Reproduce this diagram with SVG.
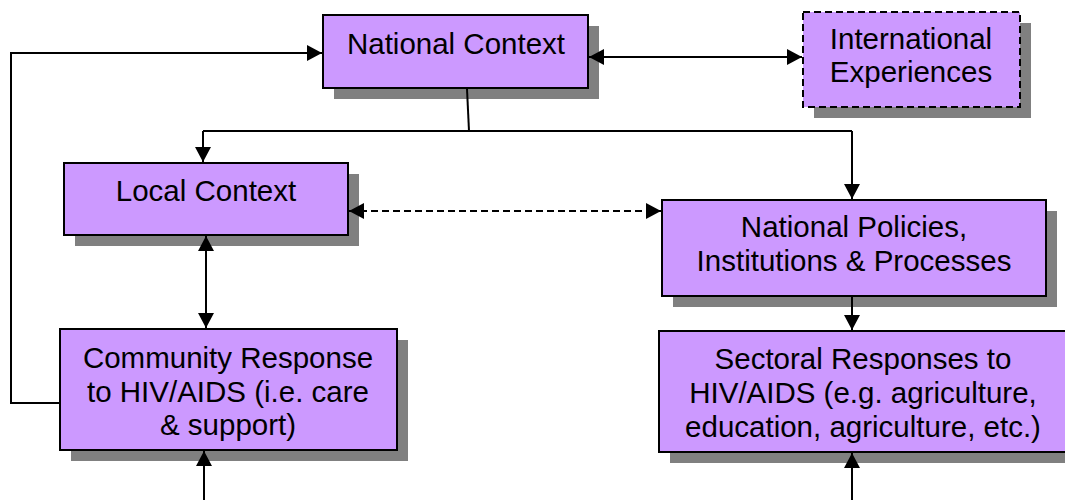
<svg xmlns="http://www.w3.org/2000/svg" width="1065" height="500" viewBox="0 0 1065 500">
<defs>
<marker id="ah" viewBox="0 0 15 16" refX="15" refY="8" markerWidth="15" markerHeight="16" markerUnits="userSpaceOnUse" orient="auto-start-reverse">
<path d="M0,0 L15,8 L0,16 Z" fill="#000"/>
</marker>
</defs>
<style>
.shadow{fill:#808080}
.box{fill:#cc99ff;stroke:#000;stroke-width:2}
.dash{stroke-dasharray:7,4}
.t{font-family:"Liberation Sans",Arial,sans-serif;font-size:29.5px;fill:#000;text-anchor:middle}
.c{fill:none;stroke:#000;stroke-width:2}
</style>
<rect width="1065" height="500" fill="#fff"/>
<g id="national-context">
<rect class="shadow" x="334" y="26" width="265" height="73"/>
<rect class="box" x="323" y="15" width="265" height="73"/>
<text class="t" x="456" y="54">National Context</text>
</g>
<g id="international-experiences">
<rect class="shadow" x="814" y="23" width="217" height="95"/>
<rect class="box dash" x="803" y="12" width="217" height="95"/>
<text class="t" x="911" y="49">International</text>
<text class="t" x="911" y="82">Experiences</text>
</g>
<g id="local-context">
<rect class="shadow" x="75" y="174" width="284" height="72"/>
<rect class="box" x="64" y="163" width="284" height="72"/>
<text class="t" x="206" y="201">Local Context</text>
</g>
<g id="national-policies">
<rect class="shadow" x="673" y="211" width="384" height="96"/>
<rect class="box" x="662" y="200" width="384" height="96"/>
<text class="t" x="854" y="237">National Policies,</text>
<text class="t" x="854" y="271">Institutions &amp; Processes</text>
</g>
<g id="community-response">
<rect class="shadow" x="71" y="340" width="337" height="121"/>
<rect class="box" x="60" y="329" width="337" height="121"/>
<text class="t" x="228" y="368">Community Response</text>
<text class="t" x="228" y="402">to HIV/AIDS (i.e. care</text>
<text class="t" x="228" y="435">&amp; support)</text>
</g>
<g id="sectoral-responses">
<rect class="shadow" x="670" y="342" width="408" height="121"/>
<rect class="box" x="659" y="331" width="408" height="121"/>
<text class="t" x="863" y="369">Sectoral Responses to</text>
<text class="t" x="863" y="403">HIV/AIDS (e.g. agriculture,</text>
<text class="t" x="863" y="437">education, agriculture, etc.)</text>
</g>
<g id="connectors">
<polyline class="c" points="60,403 11,403 11,53 322,53" marker-end="url(#ah)"/>
<line class="c" x1="589" y1="57" x2="802" y2="57" marker-start="url(#ah)" marker-end="url(#ah)"/>
<line class="c" x1="467" y1="89" x2="469" y2="131"/>
<polyline class="c" points="203,131 852,131"/>
<line class="c" x1="203" y1="131" x2="203" y2="162" marker-end="url(#ah)"/>
<line class="c" x1="852" y1="131" x2="852" y2="199" marker-end="url(#ah)"/>
<line class="c dash" x1="349" y1="211" x2="661" y2="211" marker-start="url(#ah)" marker-end="url(#ah)"/>
<line class="c" x1="206" y1="236" x2="206" y2="328" marker-start="url(#ah)" marker-end="url(#ah)"/>
<line class="c" x1="852" y1="297" x2="852" y2="330" marker-end="url(#ah)"/>
<line class="c" x1="204" y1="500" x2="204" y2="451" marker-end="url(#ah)"/>
<line class="c" x1="852" y1="500" x2="852" y2="453" marker-end="url(#ah)"/>
</g>
</svg>
